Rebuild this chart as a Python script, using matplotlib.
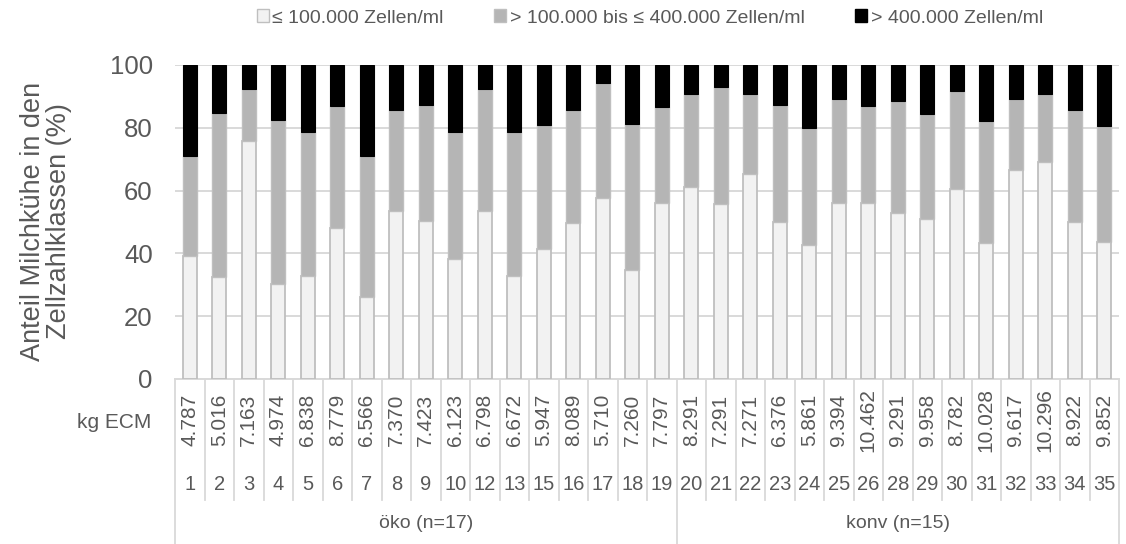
import numpy as np
import matplotlib
matplotlib.use('Agg')
import matplotlib.pyplot as plt
import matplotlib.transforms as mtransforms
from matplotlib.patches import Patch

plt.rcParams['font.family'] = ['Liberation Sans', 'DejaVu Sans']

# Betriebe (Kategorien), Milchleistung und Anteile der Zellzahlklassen (%)
betriebe = ['1', '2', '3', '4', '5', '6', '7', '8', '9', '10', '12', '13', '15', '16', '17', '18', '19',
            '20', '21', '22', '23', '24', '25', '26', '28', '29', '30', '31', '32', '33', '34', '35']
ecm = ['4.787', '5.016', '7.163', '4.974', '6.838', '8.779', '6.566', '7.370', '7.423', '6.123', '6.798',
       '6.672', '5.947', '8.089', '5.710', '7.260', '7.797',
       '8.291', '7.291', '7.271', '6.376', '5.861', '9.394', '10.462', '9.291', '9.958', '8.782',
       '10.028', '9.617', '10.296', '8.922', '9.852']
gruppen = ['öko (n=17)', 'konv (n=15)']
gruppen_n = [17, 15]

niedrig = np.array([39.3, 32.4, 75.7, 30.2, 32.8, 48.2, 26.1, 53.4, 50.4, 38.3, 53.4, 32.7, 41.3, 49.7,
                    57.5, 34.7, 56.0,
                    61.0, 55.7, 65.4, 50.1, 42.6, 56.0, 56.0, 53.0, 51.1, 60.5, 43.3, 66.6, 69.1, 49.9, 43.6])
hoch = np.array([29.0, 15.4, 7.5, 17.6, 21.4, 13.1, 29.0, 14.3, 12.8, 21.4, 7.5, 21.4, 19.2, 14.3,
                 5.6, 18.7, 13.4,
                 9.3, 7.0, 9.3, 12.7, 20.2, 10.9, 13.1, 11.6, 15.7, 8.3, 17.9, 10.9, 9.3, 14.3, 19.5])
mittel = 100 - niedrig - hoch

labels = ['≤ 100.000 Zellen/ml', '> 100.000 bis ≤ 400.000 Zellen/ml', '> 400.000 Zellen/ml']

txt = '#595959'
W, H = 1126, 544
fig = plt.figure(figsize=(W / 100, H / 100), dpi=100)
ax = fig.add_axes([175 / W, 1 - 379 / H, (1119 - 175) / W, (379 - 65) / H])

x = np.arange(len(betriebe))
bw = 0.47
ax.bar(x, niedrig, width=bw, color='#F2F2F2', edgecolor='#BFBFBF', linewidth=1.3, zorder=3)
ax.bar(x, mittel, width=bw, bottom=niedrig, color='#B5B5B5', edgecolor='#BFBFBF', linewidth=1.0, zorder=3)
ax.bar(x, hoch, width=bw, bottom=niedrig + mittel, color='black', edgecolor='black', linewidth=0.8, zorder=3)

ax.set_xlim(-0.5, len(betriebe) - 0.5)
ax.set_ylim(0, 100)
ax.set_yticks([0, 20, 40, 60, 80, 100])
ax.tick_params(axis='y', length=0, pad=16, labelsize=18.5, labelcolor=txt)
ax.set_xticks([])
ax.yaxis.grid(True, color='#D9D9D9', linewidth=1.4, zorder=0)
ax.set_axisbelow(True)
for s in ['top', 'right', 'left']:
    ax.spines[s].set_visible(False)
ax.spines['bottom'].set_color('#D9D9D9')
ax.spines['bottom'].set_linewidth(1.4)

# Kategorietabelle unter der Achse
tr = mtransforms.blended_transform_factory(ax.transData, fig.transFigure)
def fy(py):
    return 1 - py / H

grenzen = np.arange(len(betriebe) + 1) - 0.5
aussen = [0, gruppen_n[0], len(betriebe)]
for i, b in enumerate(grenzen):
    unten = 544 if i in aussen else 500
    ax.plot([b, b], [fy(379), fy(unten)], transform=tr, color='#D9D9D9', lw=1.3, clip_on=False)

for xi, e, n in zip(x, ecm, betriebe):
    ax.text(xi, fy(420), e, transform=tr, rotation=90, ha='center', va='center',
            fontsize=15, color=txt)
    ax.text(xi, fy(485), n, transform=tr, ha='center', va='center', fontsize=14.5, color=txt)

start = -0.5
for g, n in zip(gruppen, gruppen_n):
    ax.text(start + n / 2, fy(523), g, transform=tr, ha='center', va='center', fontsize=14, color=txt)
    start += n

fig.text(151 / W, fy(422), 'kg ECM', ha='right', va='center', fontsize=15, color=txt)

fig.text(46 / W, fy(221), 'Anteil Milchkühe in den\nZellzahlklassen (%)', rotation=90,
         ha='center', va='center', multialignment='center', fontsize=19.5, linespacing=1.0, color=txt)

handles = [Patch(facecolor='#F2F2F2', edgecolor='#BFBFBF'),
           Patch(facecolor='#B5B5B5', edgecolor='#BFBFBF'),
           Patch(facecolor='black', edgecolor='black')]
leg = fig.legend(handles, labels, loc='center', bbox_to_anchor=(650 / W, fy(18)), ncol=3, frameon=False,
                 fontsize=14, handlelength=0.6, handleheight=0.6, handletextpad=0.2,
                 columnspacing=2.6, labelcolor=txt)

fig.savefig('out.png', dpi=100)
